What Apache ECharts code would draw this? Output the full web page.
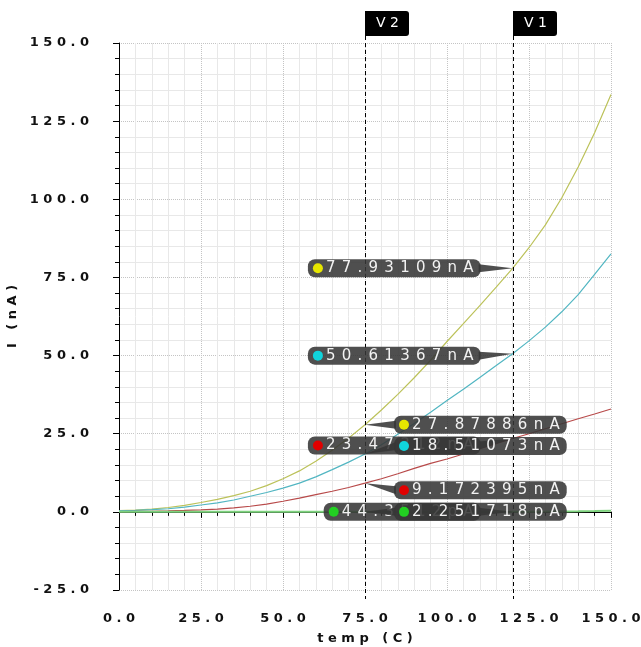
<!DOCTYPE html>
<html>
<head>
<meta charset="utf-8">
<script src="https://cdn.jsdelivr.net/npm/echarts@6/dist/echarts.min.js"></script>
<style>html,body{margin:0;padding:0;background:#fff;}#chart{width:641px;height:647px;}</style>
</head>
<body>
<div id="chart"></div>
<script>
// ---- data ----
const temps = [0,5,10,15,20,25,30,35,40,45,50,55,60,65,70,75,80,85,90,95,100,105,110,115,120,125,130,135,140,145,150];
const yellowI = [0.4,0.6,0.9,1.4,2.1,3.0,4.0,5.2,6.6,8.4,10.6,13.1,16.2,19.7,23.6,27.88,32.6,37.6,42.9,48.5,54.5,60.2,66.0,71.9,77.93,84.5,91.8,100.5,110.3,121.3,133.5];
const cyanI = [0.3,0.45,0.7,1.0,1.5,2.2,2.9,3.8,5.0,6.2,7.6,9.2,11.2,13.5,15.9,18.51,21.5,24.8,28.3,31.9,35.6,39.2,43.0,46.8,50.61,54.7,59.1,64.0,69.5,76.0,82.5];
const redI = [0.1,0.15,0.2,0.3,0.45,0.65,0.9,1.3,1.8,2.5,3.4,4.4,5.5,6.6,7.8,9.17,10.6,12.2,13.9,15.5,16.9,18.5,20.2,21.8,23.47,25.0,26.6,28.2,29.8,31.3,32.9];
const greenI = [0.00002,0.00003,0.00004,0.00006,0.00008,0.0001,0.00015,0.0002,0.0003,0.0004,0.0005,0.0007,0.001,0.0013,0.0017,0.00225,0.003,0.0042,0.006,0.0084,0.012,0.017,0.023,0.032,0.0443,0.062,0.088,0.12,0.17,0.24,0.33];

const cursorNames = ['V1', 'V2'];
const cursorTemps = [120, 75];
const v1Values = [77.93109, 50.61367, 23.47312, 0.0443512];
const v1Texts = ['77.93109nA', '50.61367nA', '23.47312nA', '44.3512pA'];
const v2Values = [27.87886, 18.51073, 9.172395, 0.002251718];
const v2Texts = ['27.87886nA', '18.51073nA', '9.172395nA', '2.251718pA'];

const xTicks = { min: 0, max: 150, interval: 25 };
const yTicks = { min: -25, max: 150, interval: 25 };

// ---- styles ----
const lineColors = ['#bcc25a', '#52b6c2', '#b84a4a', '#7ed27e'];
const dotColors = ['#e6e600', '#10d4dc', '#e00000', '#22d022'];
const lineWidths = [1.2, 1.2, 1.2, 2];
// callout layout: side of cursor and vertical shift (px) of the box from the point
const v1Layout = [{side:'left',dy:0},{side:'left',dy:2},{side:'left',dy:7},{side:'left',dy:0}];
const v2Layout = [{side:'right',dy:0},{side:'right',dy:-8},{side:'right',dy:7},{side:'right',dy:0}];

const FONT = '"DejaVu Sans", Verdana, sans-serif';
const spaced = (s, sep) => String(s).split('').join(sep || ' ');

const seriesVals = [yellowI, cyanI, redI, greenI];
const lineSeries = seriesVals.map((vals, k) => ({
  type: 'line',
  data: temps.map((t, i) => [t, vals[i]]),
  showSymbol: false,
  symbol: 'none',
  lineStyle: { color: lineColors[k], width: lineWidths[k] },
  z: 2,
  silent: true
}));

const callouts = [];
v1Values.forEach((v, k) => callouts.push({ t: cursorTemps[0], v, text: v1Texts[k], color: dotColors[k], lay: v1Layout[k] }));
v2Values.forEach((v, k) => callouts.push({ t: cursorTemps[1], v, text: v2Texts[k], color: dotColors[k], lay: v2Layout[k] }));

const BOX_BG = 'rgba(55,55,55,0.88)';

function renderCallout(params, api) {
  const c = callouts[params.dataIndex];
  const pt = api.coord([api.value(0), api.value(1)]);
  const boxY = pt[1] + c.lay.dy;
  const left = c.lay.side === 'left';
  const edgeX = left ? pt[0] - 32 : pt[0] + 29;
  const inner = left ? edgeX - 2 : edgeX + 2;
  return {
    type: 'group',
    children: [
      { type: 'polygon', shape: { points: [[pt[0], pt[1]], [inner, boxY - 4], [inner, boxY + 4]] }, style: { fill: BOX_BG } },
      { type: 'text', x: edgeX, y: boxY,
        style: {
          text: '{d|}{t|' + spaced(c.text, ' \u200A') + '}',
          align: left ? 'right' : 'left',
          verticalAlign: 'middle',
          backgroundColor: BOX_BG,
          borderRadius: 7,
          padding: [1, 7, 1, 5],
          rich: {
            d: { width: 10, height: 10, borderRadius: 5, backgroundColor: c.color },
            t: { fill: '#f2f2f2', font: '15px ' + FONT, lineHeight: 16, padding: [0, 0, 0, 3] }
          }
        }
      }
    ]
  };
}

function renderCursor(params, api) {
  const x = api.value(0);
  const top = api.coord([x, yTicks.max]);
  const bot = api.coord([x, yTicks.min]);
  const lx = Math.round(top[0]) + 0.5;
  const boxBottom = top[1] - 7;
  return {
    type: 'group',
    children: [
      { type: 'line', shape: { x1: lx, y1: boxBottom, x2: lx, y2: bot[1] + 9 }, style: { stroke: '#000', lineWidth: 1, lineDash: [4, 3] } },
      { type: 'rect', shape: { x: lx - 0.5, y: boxBottom - 25, width: 44, height: 25, r: [0, 3, 3, 0] }, style: { fill: '#000' } },
      { type: 'text', x: lx + 22, y: boxBottom - 12.5, style: { text: spaced(cursorNames[params.dataIndex]), fill: '#fff', font: '14px ' + FONT, align: 'center', verticalAlign: 'middle' } }
    ]
  };
}

const axisLabelStyle = { color: '#111', fontFamily: FONT, fontSize: 13, fontWeight: 'bold' };

const option = {
  animation: false,
  backgroundColor: '#fff',
  grid: { left: 119, right: 30, top: 43, bottom: 57, containLabel: false, outerBoundsMode: 'none' },
  xAxis: {
    type: 'value', min: xTicks.min, max: xTicks.max, interval: xTicks.interval,
    offset: 10,
    name: spaced('temp') + '   ' + spaced('(C)'),
    nameLocation: 'middle', nameGap: 32,
    nameTextStyle: { color: '#111', fontFamily: FONT, fontSize: 13, fontWeight: 'bold' },
    axisLine: { show: true, lineStyle: { color: '#000', width: 1 } },
    axisTick: { show: true, length: 6, lineStyle: { color: '#000' } },
    minorTick: { show: true, splitNumber: 5, length: 4, lineStyle: { color: '#000' } },
    splitLine: { show: true, lineStyle: { color: '#c4c4c4', type: 'dotted', width: 1 } },
    minorSplitLine: { show: true, lineStyle: { color: '#e8e8e8', width: 1 } },
    axisLabel: Object.assign({ margin: 12, formatter: v => spaced(v.toFixed(1)) }, axisLabelStyle)
  },
  yAxis: {
    type: 'value', min: yTicks.min, max: yTicks.max, interval: yTicks.interval,
    offset: 12,
    name: 'I   ' + spaced('(nA)'),
    nameLocation: 'middle', nameGap: 75, nameRotate: 90,
    nameTextStyle: { color: '#111', fontFamily: FONT, fontSize: 13, fontWeight: 'bold' },
    axisLine: { show: true, lineStyle: { color: '#000', width: 1 } },
    axisTick: { show: true, length: 6, lineStyle: { color: '#000' } },
    minorTick: { show: true, splitNumber: 5, length: 4, lineStyle: { color: '#000' } },
    splitLine: { show: true, lineStyle: { color: '#c4c4c4', type: 'dotted', width: 1 } },
    minorSplitLine: { show: true, lineStyle: { color: '#e8e8e8', width: 1 } },
    axisLabel: Object.assign({ margin: 18, formatter: v => spaced(v.toFixed(1)) }, axisLabelStyle)
  },
  series: [
    ...lineSeries,
    { type: 'custom', renderItem: renderCursor, data: cursorTemps.map(t => [t, yTicks.max]), clip: false, z: 3, silent: true },
    { type: 'custom', renderItem: renderCallout, data: callouts.map(c => [c.t, c.v]), clip: false, z: 4, silent: true }
  ]
};

const chart = echarts.init(document.getElementById('chart'), null, { renderer: 'canvas' });
chart.setOption(option);
</script>
</body>
</html>
